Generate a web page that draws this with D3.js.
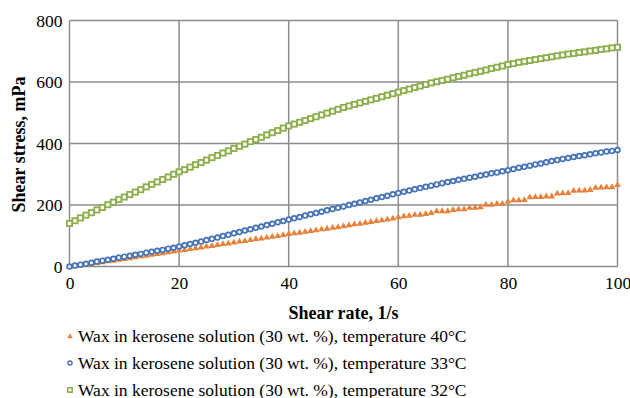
<!DOCTYPE html>
<html>
<head>
<meta charset="utf-8">
<script src="https://cdn.jsdelivr.net/npm/d3@7"></script>
<style>
  html, body { margin: 0; padding: 0; background: #fff; }
  svg { display: block; }
  text { font-family: "Liberation Serif", "Times New Roman", serif; fill: #000; }
</style>
</head>
<body>
<svg id="chart" width="630" height="398"></svg>
<script>
// Shear rate, 1/s (0..100, step 1)
const shearRate = d3.range(0, 101);

// Shear stress, mPa — wax in kerosene (30 wt. %) at three temperatures
const stress40 = [
  0, 3, 5, 8, 11, 13, 16, 19, 21, 24, 26,
  29, 32, 35, 37, 40, 43, 45, 48, 51, 54,
  56, 59, 61, 64, 67, 69, 72, 75, 77, 80,
  83, 85, 88, 91, 93, 96, 99, 101, 104, 108,
  110, 112, 115, 117, 120, 123, 125, 128, 130, 133,
  136, 139, 141, 144, 147, 150, 152, 155, 158, 162,
  165, 167, 170, 170, 173, 176, 182, 182, 182, 186,
  188, 188, 193, 193, 195, 203, 203, 206, 206, 213,
  217, 217, 218, 227, 228, 228, 230, 230, 239, 240,
  241, 248, 249, 249, 251, 258, 259, 260, 260, 267
];
const stress33 = [
  0, 3, 6, 9, 12, 16, 19, 22, 25, 29, 32,
  35, 38, 41, 45, 48, 51, 54, 58, 61, 65,
  69, 73, 77, 81, 86, 90, 94, 99, 103, 108,
  112, 117, 121, 126, 130, 135, 139, 144, 148, 153,
  157, 161, 166, 170, 174, 178, 183, 187, 191, 195,
  200, 204, 208, 213, 217, 222, 226, 230, 235, 239,
  243, 247, 251, 255, 259, 263, 267, 271, 275, 278,
  282, 285, 289, 292, 296, 299, 303, 306, 310, 313,
  317, 321, 324, 328, 332, 335, 339, 343, 346, 350,
  353, 356, 359, 362, 365, 368, 371, 374, 376, 379
];
const stress32 = [
  140, 149, 158, 167, 175, 184, 192, 201, 209, 218, 226,
  234, 242, 250, 259, 267, 275, 283, 291, 300, 308,
  315, 323, 331, 338, 346, 354, 361, 369, 376, 384,
  391, 398, 406, 413, 420, 428, 435, 442, 450, 457,
  463, 469, 475, 481, 487, 493, 499, 505, 511, 517,
  522, 527, 532, 537, 542, 547, 552, 557, 562, 567,
  572, 577, 582, 587, 592, 597, 601, 605, 609, 614,
  618, 622, 627, 631, 635, 639, 644, 648, 652, 657,
  660, 664, 667, 670, 673, 676, 679, 682, 685, 688,
  691, 693, 696, 698, 701, 703, 706, 708, 711, 713
];

const xTicks = [0, 20, 40, 60, 80, 100];
const yTicks = [0, 200, 400, 600, 800];

const seriesNames = [
  "Wax in kerosene solution (30 wt. %), temperature 40°C",
  "Wax in kerosene solution (30 wt. %), temperature 33°C",
  "Wax in kerosene solution (30 wt. %), temperature 32°C"
];
const seriesColors = ["#E8813A", "#4573B5", "#8BAE4A"];
const seriesShapes = ["triangle", "circle", "square"];
const seriesValues = [stress40, stress33, stress32];

const svg = d3.select("#chart");
const plot = { left: 69.5, right: 617.5, top: 20.5, bottom: 266.5 };

const x = d3.scaleLinear().domain([0, 100]).range([plot.left, plot.right]);
const y = d3.scaleLinear().domain([0, 800]).range([plot.bottom, plot.top]);

const gridColor = "#8c8c8c";

// grid lines
const grid = svg.append("g");
grid.selectAll("line.h").data(yTicks).join("line")
  .attr("x1", plot.left).attr("x2", plot.right)
  .attr("y1", d => y(d)).attr("y2", d => y(d))
  .attr("stroke", gridColor).attr("stroke-width", 1.5);
grid.selectAll("line.v").data(xTicks).join("line")
  .attr("y1", plot.top).attr("y2", plot.bottom)
  .attr("x1", d => x(d)).attr("x2", d => x(d))
  .attr("stroke", gridColor).attr("stroke-width", 1.5);

// axes (labels only; lines come from the grid)
const yAxis = svg.append("g")
  .attr("transform", `translate(${plot.left},0)`)
  .call(d3.axisLeft(y).tickValues(yTicks).tickSize(0).tickPadding(7).tickFormat(d3.format("d")));
const xAxis = svg.append("g")
  .attr("transform", `translate(0,${plot.bottom})`)
  .call(d3.axisBottom(x).tickValues(xTicks).tickSize(0).tickPadding(10).tickFormat(d3.format("d")));
[yAxis, xAxis].forEach(a => {
  a.select(".domain").remove();
  a.selectAll("text")
    .style("font-family", '"Liberation Serif", "Times New Roman", serif')
    .style("font-size", "17.5px").attr("fill", "#000");
});

// axis titles
svg.append("text")
  .attr("x", (plot.left + plot.right) / 2).attr("y", 319)
  .attr("text-anchor", "middle")
  .style("font-size", "18px").style("font-weight", "bold")
  .text("Shear rate, 1/s");
svg.append("text")
  .attr("transform", `translate(25,${(plot.top + plot.bottom) / 2 + 1}) rotate(-90)`)
  .attr("text-anchor", "middle")
  .style("font-size", "18px").style("font-weight", "bold")
  .text("Shear stress, mPa");

// marker drawing
function drawMarker(g, shape, color) {
  if (shape === "triangle") {
    g.append("path").attr("d", "M0,-3.2 L3.4,2.6 L-3.4,2.6 Z").attr("fill", color);
  } else if (shape === "circle") {
    g.append("circle").attr("r", 2.4).attr("fill", "#fff")
      .attr("stroke", color).attr("stroke-width", 1.7);
  } else {
    g.append("rect").attr("x", -2.6).attr("y", -2.6).attr("width", 5.2).attr("height", 5.2)
      .attr("fill", "#fff").attr("stroke", color).attr("stroke-width", 1.8);
  }
}

// series points
seriesValues.forEach((vals, si) => {
  const g = svg.append("g");
  g.selectAll("g").data(shearRate).join("g")
    .attr("transform", (d, i) => `translate(${x(d)},${y(vals[i])})`)
    .each(function () { drawMarker(d3.select(this), seriesShapes[si], seriesColors[si]); });
});

// legend
const legend = svg.append("g");
seriesNames.forEach((name, i) => {
  const yy = 336 + i * 27;
  const m = legend.append("g").attr("transform", `translate(70,${yy}) scale(0.85)`);
  drawMarker(m, seriesShapes[i], seriesColors[i]);
  legend.append("text").attr("x", 78).attr("y", yy + 5.5)
    .style("font-size", "17.5px").text(name);
});
</script>
</body>
</html>
